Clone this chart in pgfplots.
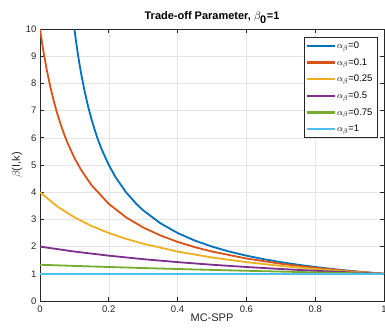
\documentclass[border=0pt]{standalone}
\usepackage{pgfplots}
\pgfplotsset{compat=1.18}
\usepackage{fontspec}
\setmainfont{Liberation Sans}
\definecolor{m1}{rgb}{0,0.447,0.741}
\definecolor{m2}{rgb}{0.85,0.325,0.098}
\definecolor{m3}{rgb}{0.929,0.694,0.125}
\definecolor{m4}{rgb}{0.494,0.184,0.556}
\definecolor{m5}{rgb}{0.466,0.674,0.188}
\definecolor{m6}{rgb}{0.301,0.745,0.933}
\definecolor{axc}{rgb}{0.15,0.15,0.15}
\begin{document}
\begin{tikzpicture}
\begin{axis}[
  scale only axis,
  width=344pt, height=272pt,
  xmin=0, xmax=1, ymin=0, ymax=10,
  xtick={0,0.2,0.4,0.6,0.8,1},
  xticklabels={0,0.2,0.4,0.6,0.8,1},
  ytick={0,1,...,10},
  tick align=inside,
  major tick length=4pt,
  grid=major,
  major grid style={gray!20, line width=0.5pt},
  axis line style={axc, line width=0.7pt},
  tick style={axc, line width=0.7pt},
  every tick label/.append style={font=\fontsize{9.5}{10}\selectfont, text=axc},
  xticklabel style={yshift=-1pt},
  /pgf/number format/assume math mode=true,
  title={\textbf{Trade-off Parameter, $\beta_{\textbf{0}}$=1}},
  title style={font=\fontsize{11}{12}\selectfont, yshift=-4pt},
  xlabel={MC-SPP},
  ylabel={$\beta$(I,k)},
  label style={font=\fontsize{11}{12}\selectfont, text=axc},
  xlabel style={yshift=5pt},
  ylabel style={yshift=-3pt},
  legend style={at={(0.98,0.97)}, anchor=north east, font=\fontsize{9.5}{10}\selectfont,
    draw=axc, row sep=4.5pt, inner sep=2.5pt},
  legend cell align=left,
  legend image code/.code={\fill[#1, draw=none] (0pt,-1.15pt) rectangle (28pt,1.15pt);},
  clip=true,
]
\addplot[m1, line width=1.8pt] coordinates {(0.1,10)(0.105,9.524)(0.11,9.091)(0.115,8.696)(0.12,8.333)(0.13,7.692)(0.14,7.143)(0.15,6.667)(0.16,6.25)(0.17,5.882)(0.18,5.556)(0.2,5)(0.22,4.545)(0.25,4)(0.28,3.571)(0.3,3.333)(0.35,2.857)(0.4,2.5)(0.45,2.222)(0.5,2)(0.55,1.818)(0.6,1.667)(0.65,1.538)(0.7,1.429)(0.75,1.333)(0.8,1.25)(0.85,1.176)(0.9,1.111)(0.95,1.053)(1,1)};
\addlegendentry{$\alpha_{\beta}$=0}
\addplot[m2, line width=1.8pt] coordinates {(0,10)(0.01,9.174)(0.02,8.475)(0.03,7.874)(0.04,7.353)(0.05,6.897)(0.06,6.494)(0.07,6.135)(0.08,5.814)(0.1,5.263)(0.12,4.808)(0.15,4.255)(0.2,3.571)(0.25,3.077)(0.3,2.703)(0.35,2.410)(0.4,2.174)(0.45,1.980)(0.5,1.818)(0.6,1.5625)(0.7,1.370)(0.8,1.220)(0.9,1.099)(1,1)};
\addlegendentry{$\alpha_{\beta}$=0.1}
\addplot[m3, line width=1.8pt] coordinates {(0,4)(0.05,3.478)(0.1,3.077)(0.15,2.759)(0.2,2.5)(0.25,2.286)(0.3,2.105)(0.4,1.818)(0.5,1.6)(0.6,1.429)(0.7,1.290)(0.8,1.176)(0.9,1.081)(1,1)};
\addlegendentry{$\alpha_{\beta}$=0.25}
\addplot[m4, line width=1.8pt] coordinates {(0,2)(0.1,1.818)(0.2,1.667)(0.3,1.538)(0.4,1.429)(0.5,1.333)(0.6,1.25)(0.7,1.176)(0.8,1.111)(0.9,1.053)(1,1)};
\addlegendentry{$\alpha_{\beta}$=0.5}
\addplot[m5, line width=1.8pt] coordinates {(0,1.333)(0.1,1.290)(0.2,1.25)(0.3,1.212)(0.4,1.176)(0.5,1.143)(0.6,1.111)(0.7,1.081)(0.8,1.053)(0.9,1.026)(1,1)};
\addlegendentry{$\alpha_{\beta}$=0.75}
\addplot[m6, line width=1.8pt] coordinates {(0,1)(1,1)};
\addlegendentry{$\alpha_{\beta}$=1}
\end{axis}
\pgfresetboundingbox
\path ([xshift=-40pt,yshift=-33pt]current axis.south west) rectangle ([xshift=1pt,yshift=29pt]current axis.north east);
\end{tikzpicture}
\end{document}
